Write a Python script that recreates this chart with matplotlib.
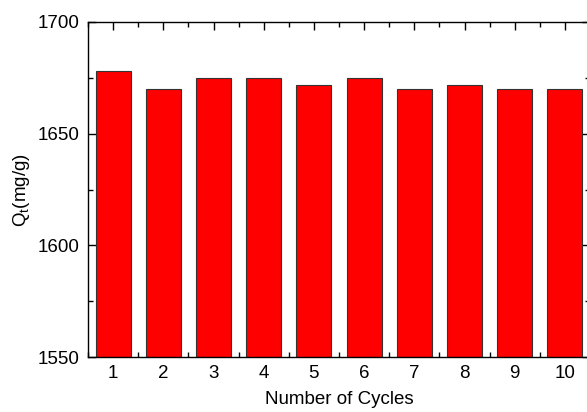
import matplotlib
matplotlib.use("Agg")
import matplotlib.pyplot as plt
from matplotlib.ticker import MultipleLocator

plt.rcParams['font.family'] = ['Liberation Sans', 'DejaVu Sans']

cycles = [1, 2, 3, 4, 5, 6, 7, 8, 9, 10]
capacity = [1678, 1670, 1675, 1675, 1672, 1675, 1670, 1672, 1670, 1670]
tick_labels = [str(c) for c in cycles]

fig = plt.figure(figsize=(5.87, 4.12), dpi=100)
W, H = 587, 412
ax = fig.add_axes([88 / W, 1 - 357 / H, 502 / W, 335 / H])

ax.bar(cycles, capacity, width=0.7, color='#ff0000', edgecolor='#333333', linewidth=0.8, zorder=2)

ax.set_xlim(0.5, 10.5)
ax.set_ylim(1550, 1700)
ax.set_xticks(cycles)
ax.set_xticklabels(tick_labels)
ax.xaxis.set_minor_locator(MultipleLocator(0.5))
ax.yaxis.set_major_locator(MultipleLocator(50))
ax.yaxis.set_minor_locator(MultipleLocator(25))

ax.tick_params(which='both', direction='in', top=True, right=True, width=1.0, labelsize=13.5, pad=6)
ax.tick_params(which='major', length=6)
ax.tick_params(which='minor', length=3.5)
for s in ax.spines.values():
    s.set_linewidth(1.0)

ax.set_xlabel('Number of Cycles', fontsize=13.5, labelpad=6)
ax.set_ylabel(r'Q$_\mathregular{t}$(mg/g)', fontsize=13.5, labelpad=4)

fig.savefig('out.png', dpi=100)
